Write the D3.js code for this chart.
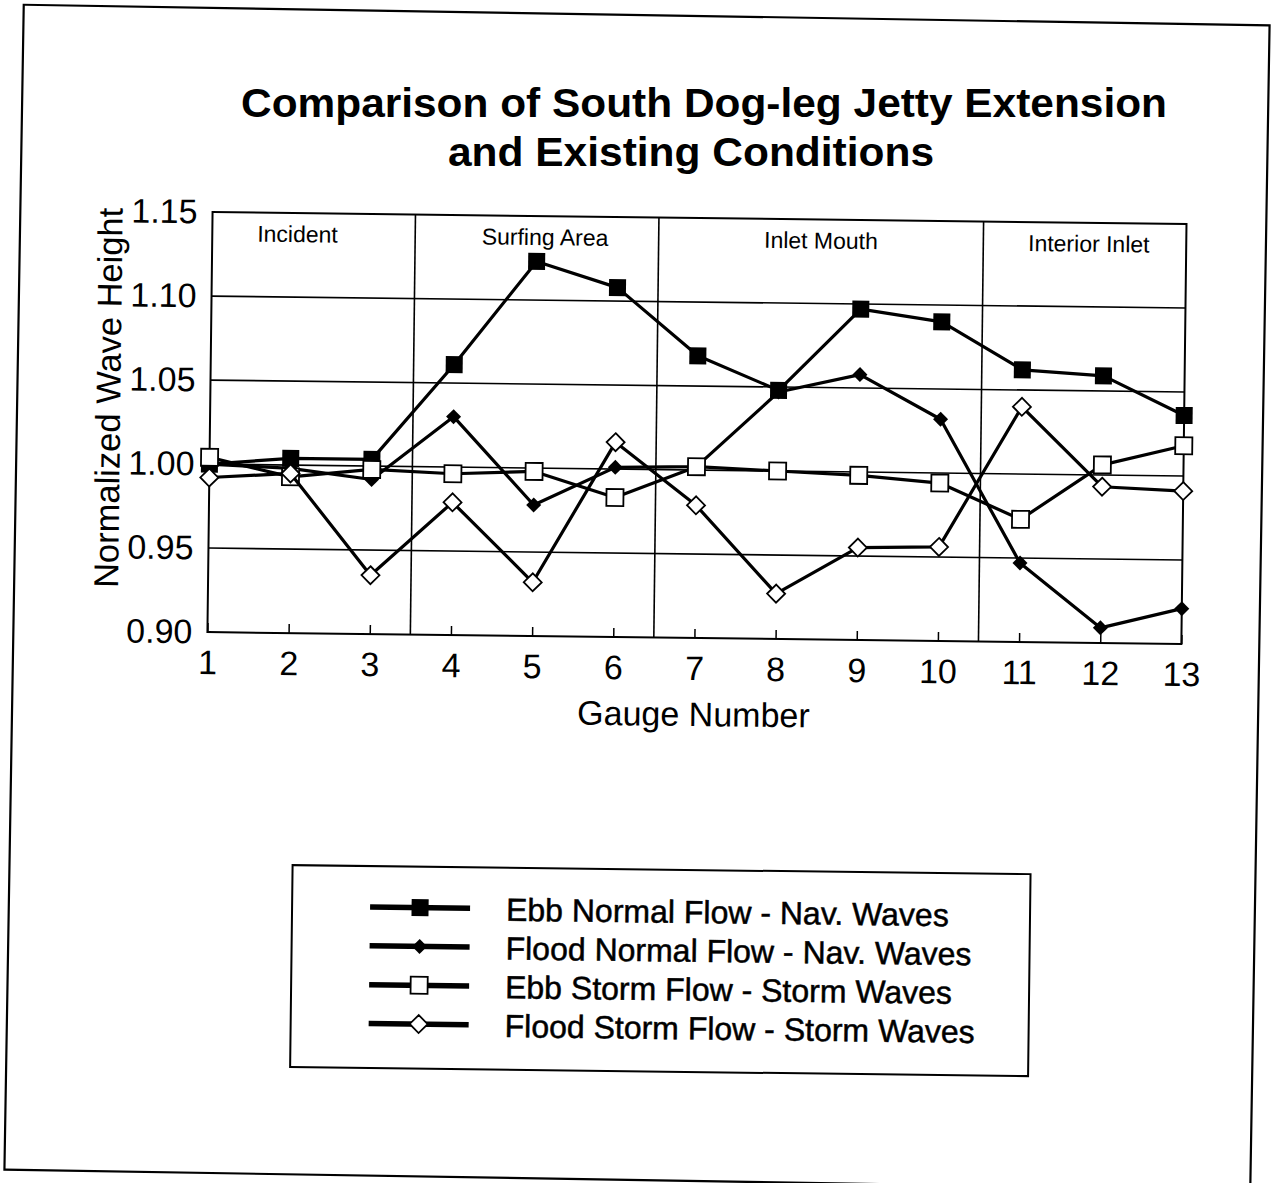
<!DOCTYPE html>
<html>
<head>
<meta charset="utf-8">
<script src="https://cdn.jsdelivr.net/npm/d3@7"></script>
<style>
  html, body { margin: 0; padding: 0; background: #fff; }
  svg text { font-family: "Liberation Sans", Arial, Helvetica, sans-serif; fill: #000; }
</style>
</head>
<body>
<svg id="chart" width="1273" height="1183"></svg>
<script>
// ---- data ----
const gauges = [1, 2, 3, 4, 5, 6, 7, 8, 9, 10, 11, 12, 13];
const ebbNormal   = [1.000, 1.004, 1.004, 1.061, 1.123, 1.108, 1.068, 1.048, 1.097, 1.090, 1.062, 1.059, 1.036];
const floodNormal = [1.000, 0.998, 0.992, 1.030, 0.978, 1.001, 1.002, 1.047, 1.058, 1.032, 0.947, 0.909, 0.921];
const ebbStorm    = [1.004, 0.993, 0.998, 0.996, 0.998, 0.983, 1.002, 1.000, 0.998, 0.994, 0.973, 1.006, 1.018];
const floodStorm  = [0.992, 0.995, 0.935, 0.979, 0.932, 1.016, 0.979, 0.927, 0.955, 0.956, 1.040, 0.993, 0.991];
const seriesNames = ["Ebb Normal Flow - Nav. Waves", "Flood Normal Flow - Nav. Waves",
                     "Ebb Storm Flow - Storm Waves", "Flood Storm Flow - Storm Waves"];
const seriesMarkers = ["filledSquare", "filledDiamond", "openSquare", "openDiamond"];
const yTicks = [0.90, 0.95, 1.00, 1.05, 1.10, 1.15];
const gridValues = [0.95, 1.00, 1.05, 1.10];
const regionBounds = [3.5, 6.5, 10.5];
const regionLabels = ["Incident", "Surfing Area", "Inlet Mouth", "Interior Inlet"];
const regionCenters = [2.05, 5.1, 8.5, 11.8];
const titleLines = ["Comparison of South Dog-leg Jetty Extension", "and Existing Conditions"];
const xTitle = "Gauge Number";
const yTitle = "Normalized Wave Height";

const allSeries = [ebbNormal, floodNormal, ebbStorm, floodStorm];

// ---- layout ----
const svg = d3.select("#chart");
svg.append("rect").attr("width", 1273).attr("height", 1183).attr("fill", "#fff");

// page frame (scanned page, slightly skewed)
svg.append("rect")
  .attr("x", 14).attr("y", 15).attr("width", 1246).attr("height", 1165)
  .attr("fill", "none").attr("stroke", "#000").attr("stroke-width", 2.2)
  .attr("transform", "rotate(0.95, 637, 597.5)");

// title (kept level)
const titleWidths = [926, 486];
svg.selectAll("text.title").data(titleLines).enter().append("text")
  .attr("class", "title")
  .attr("x", (d, i) => i === 0 ? 704 : 691)
  .attr("y", (d, i) => i === 0 ? 117 : 166)
  .attr("text-anchor", "middle")
  .attr("textLength", (d, i) => titleWidths[i])
  .attr("lengthAdjust", "spacingAndGlyphs")
  .style("font-size", "41px").style("font-weight", "bold")
  .text(d => d);

const g = svg.append("g").attr("transform", "rotate(0.7, 695, 425)");

const plot = { left: 210, right: 1184, top: 218, bottom: 638 };
const x = d3.scaleLinear().domain([1, 13]).range([plot.left, plot.right]);
const y = d3.scaleLinear().domain([0.90, 1.15]).range([plot.bottom, plot.top]);

// gridlines
g.selectAll("line.grid").data(gridValues).enter().append("line")
  .attr("x1", plot.left).attr("x2", plot.right)
  .attr("y1", d => y(d)).attr("y2", d => y(d))
  .attr("stroke", "#000").attr("stroke-width", 1.6);

// region separators
g.selectAll("line.sep").data(regionBounds).enter().append("line")
  .attr("x1", d => x(d)).attr("x2", d => x(d))
  .attr("y1", plot.top).attr("y2", plot.bottom)
  .attr("stroke", "#000").attr("stroke-width", 1.6);

// region labels
g.selectAll("text.region").data(regionLabels).enter().append("text")
  .attr("x", (d, i) => x(regionCenters[i]))
  .attr("y", 247)
  .attr("text-anchor", "middle")
  .style("font-size", "23px")
  .text(d => d);

// plot border
g.append("rect")
  .attr("x", plot.left).attr("y", plot.top)
  .attr("width", plot.right - plot.left).attr("height", plot.bottom - plot.top)
  .attr("fill", "none").attr("stroke", "#000").attr("stroke-width", 2);

// axes
const yAxis = d3.axisLeft(y).tickValues(yTicks).tickFormat(d3.format(".2f"))
  .tickSize(0).tickPadding(15);
const yg = g.append("g").attr("transform", `translate(${plot.left},0)`).call(yAxis);
yg.select(".domain").remove();
yg.selectAll("text").style("font-size", "34px").attr("fill", "#000");

const xAxis = d3.axisBottom(x).tickValues(gauges).tickFormat(d3.format("d"))
  .tickSizeInner(-9).tickSizeOuter(0).tickPadding(18);
const xg = g.append("g").attr("transform", `translate(0,${plot.bottom})`).call(xAxis);
xg.select(".domain").remove();
xg.selectAll("line").attr("stroke", "#000").attr("stroke-width", 1.5);
xg.selectAll("text").style("font-size", "34px").attr("fill", "#000");

// axis titles
g.append("text")
  .attr("x", 697).attr("y", 726)
  .attr("text-anchor", "middle")
  .style("font-size", "34px")
  .text(xTitle);

g.append("text")
  .attr("transform", "translate(120,405) rotate(-90)")
  .attr("text-anchor", "middle")
  .style("font-size", "34.5px")
  .text(yTitle);

// markers
function drawMarker(sel, type, cx, cy, scale) {
  const s = scale || 1;
  if (type === "filledSquare") {
    const h = 8.5 * s;
    sel.append("rect").attr("x", cx - h).attr("y", cy - h).attr("width", 2 * h).attr("height", 2 * h)
      .attr("fill", "#000");
  } else if (type === "openSquare") {
    const h = 8.5 * s;
    sel.append("rect").attr("x", cx - h).attr("y", cy - h).attr("width", 2 * h).attr("height", 2 * h)
      .attr("fill", "#fff").attr("stroke", "#000").attr("stroke-width", 1.8);
  } else if (type === "filledDiamond") {
    const h = 7.5 * s;
    sel.append("path").attr("d", `M${cx},${cy - h}L${cx + h},${cy}L${cx},${cy + h}L${cx - h},${cy}Z`)
      .attr("fill", "#000");
  } else {
    const h = 9 * s;
    sel.append("path").attr("d", `M${cx},${cy - h}L${cx + h},${cy}L${cx},${cy + h}L${cx - h},${cy}Z`)
      .attr("fill", "#fff").attr("stroke", "#000").attr("stroke-width", 1.8);
  }
}

const line = d3.line().x((d, i) => x(gauges[i])).y(d => y(d));

allSeries.forEach((vals, si) => {
  const sg = g.append("g");
  sg.append("path").attr("d", line(vals))
    .attr("fill", "none").attr("stroke", "#000").attr("stroke-width", 3.2)
    .attr("stroke-linejoin", "round");
  vals.forEach((v, i) => drawMarker(sg, seriesMarkers[si], x(gauges[i]), y(v)));
});

// legend
const legend = g.append("g");
legend.append("rect")
  .attr("x", 298).attr("y", 870).attr("width", 738).attr("height", 202)
  .attr("fill", "#fff").attr("stroke", "#000").attr("stroke-width", 2);

seriesNames.forEach((name, i) => {
  const ry = 911 + i * 38.8;
  legend.append("line").attr("x1", 376).attr("x2", 476).attr("y1", ry).attr("y2", ry)
    .attr("stroke", "#000").attr("stroke-width", 5.5);
  drawMarker(legend, seriesMarkers[i], 426, ry, 1.0);
  legend.append("text").attr("x", 512).attr("y", ry + 12)
    .style("font-size", "32px")
    .attr("stroke", "#000").attr("stroke-width", 0.5)
    .text(name);
});
</script>
</body>
</html>
